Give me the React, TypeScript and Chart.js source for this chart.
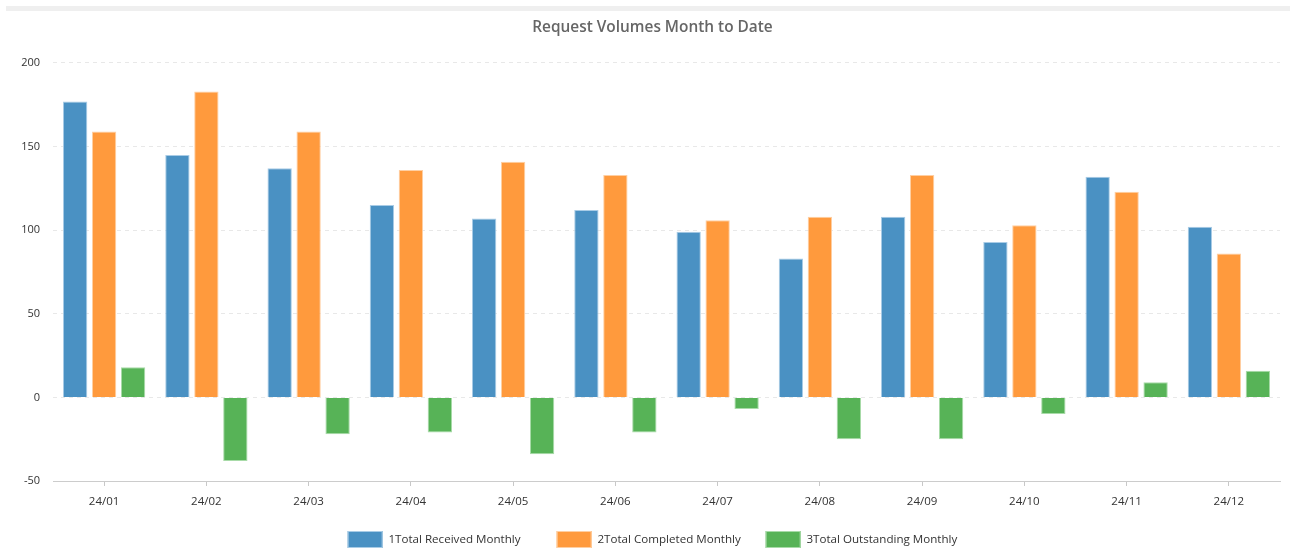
import React, { useEffect, useRef } from "react";
import { Chart, registerables } from "chart.js";

Chart.register(...registerables);

const categories = ["24/01", "24/02", "24/03", "24/04", "24/05", "24/06", "24/07", "24/08", "24/09", "24/10", "24/11", "24/12"];
const receivedMonthly = [177, 145, 137, 115, 107, 112, 99, 83, 108, 93, 132, 102];
const completedMonthly = [159, 183, 159, 136, 141, 133, 106, 108, 133, 103, 123, 86];
const outstandingMonthly = [18, -38, -22, -21, -34, -21, -7, -25, -25, -10, 9, 16];
const seriesNames = ["1Total Received Monthly", "2Total Completed Monthly", "3Total Outstanding Monthly"];
const seriesFill = ["#4a91c3", "#ff9a3d", "#57b357"];
const seriesEdge = ["#a9cce6", "#ffcfa3", "#a8dba8"];
const titleText = "Request Volumes Month to Date";

const FONT = "'Open Sans', 'Noto Sans', sans-serif";
const LEGEND_FONT_SIZE = 11.6;
const LEGEND_BOX_W = 35;
const LEGEND_BOX_H = 17;
const LEGEND_COLUMN = 209;
const LEGEND_SPACE = 36;

// Shift title to be centred like the original and draw a fixed-column legend.
const layoutTweaks = {
  id: "layoutTweaks",
  afterLayout(chart: any) {
    const t = chart.titleBlock;
    if (t) {
      t.left = 25;
    }
  },
  afterDraw(chart: any) {
    const ctx = chart.ctx as CanvasRenderingContext2D;
    const items = chart.data.datasets.map((d: any) => ({
      text: d.label as string,
      fill: d.backgroundColor as string,
      edge: d.borderColor as string,
    }));
    ctx.save();
    ctx.font = `${LEGEND_FONT_SIZE}px ${FONT}`;
    const lastW = ctx.measureText(items[items.length - 1].text).width;
    const total = (items.length - 1) * LEGEND_COLUMN + LEGEND_BOX_W + LEGEND_FONT_SIZE / 2 + lastW;
    const centerX = (25 + chart.chartArea.right) / 2;
    const startX = centerX - total / 2;
    const yMid = chart.height - LEGEND_SPACE / 2 + 5.5;
    items.forEach((it: any, i: number) => {
      const x = startX + i * LEGEND_COLUMN;
      const yTop = yMid - LEGEND_BOX_H / 2;
      ctx.fillStyle = it.fill;
      ctx.fillRect(x, yTop, LEGEND_BOX_W, LEGEND_BOX_H);
      ctx.strokeStyle = it.edge;
      ctx.lineWidth = 1;
      ctx.strokeRect(x + 0.5, yTop + 0.5, LEGEND_BOX_W - 1, LEGEND_BOX_H - 1);
      ctx.fillStyle = "#333333";
      ctx.textBaseline = "middle";
      ctx.textAlign = "left";
      ctx.fillText(it.text, x + LEGEND_BOX_W + LEGEND_FONT_SIZE / 2, yMid);
    });
    ctx.restore();
  },
};

export default function App() {
  const ref = useRef<HTMLCanvasElement | null>(null);

  useEffect(() => {
    if (!ref.current) return;
    const values = [receivedMonthly, completedMonthly, outstandingMonthly];
    const chart = new Chart(ref.current, {
      type: "bar",
      data: {
        labels: categories,
        datasets: values.map((v, i) => ({
          label: seriesNames[i],
          data: v,
          backgroundColor: seriesFill[i],
          borderColor: seriesEdge[i],
          borderWidth: 1,
        })),
      },
      options: {
        animation: false,
        responsive: false,
        maintainAspectRatio: false,
        datasets: { bar: { categoryPercentage: 0.85, barPercentage: 0.84 } } as any,
        layout: { padding: { left: 8, right: 12, top: 0, bottom: LEGEND_SPACE } },
        plugins: {
          title: {
            display: true,
            text: titleText,
            color: "#666666",
            font: { family: FONT, size: 15.4, weight: "600" as any },
            padding: { top: 18, bottom: 26.5 },
          },
          legend: { display: false },
          tooltip: { enabled: false },
        },
        scales: {
          x: {
            grid: {
              display: true,
              offset: false,
              drawOnChartArea: false,
              drawTicks: true,
              tickLength: 5,
              color: "#c8c8c8",
            },
            border: { display: true, color: "#cccccc", width: 1 },
            ticks: {
              color: "#333333",
              font: { family: FONT, size: 11.5 },
              padding: 9,
              maxRotation: 0,
            },
            afterFit(scale: any) {
              scale.height = 35;
            },
          },
          y: {
            min: -50,
            max: 200,
            ticks: {
              stepSize: 50,
              color: "#333333",
              font: { family: FONT, size: 11 },
              padding: 13,
            },
            grid: {
              color: "#e8e8e8",
              drawTicks: false,
            },
            border: { display: false, dash: [4, 4] },
            afterFit(scale: any) {
              scale.width = 45;
            },
          },
        },
      },
      plugins: [layoutTweaks],
    });
    return () => chart.destroy();
  }, []);

  return (
    <div style={{ position: "absolute", left: 0, top: 0, width: 1292, height: 552, background: "#ffffff" }}>
      <div style={{ position: "absolute", left: 6, top: 6, width: 1284, height: 5, background: "#efefef" }} />
      <canvas ref={ref} width={1292} height={552} style={{ position: "absolute", left: 0, top: 0, width: 1292, height: 552 }} />
    </div>
  );
}
